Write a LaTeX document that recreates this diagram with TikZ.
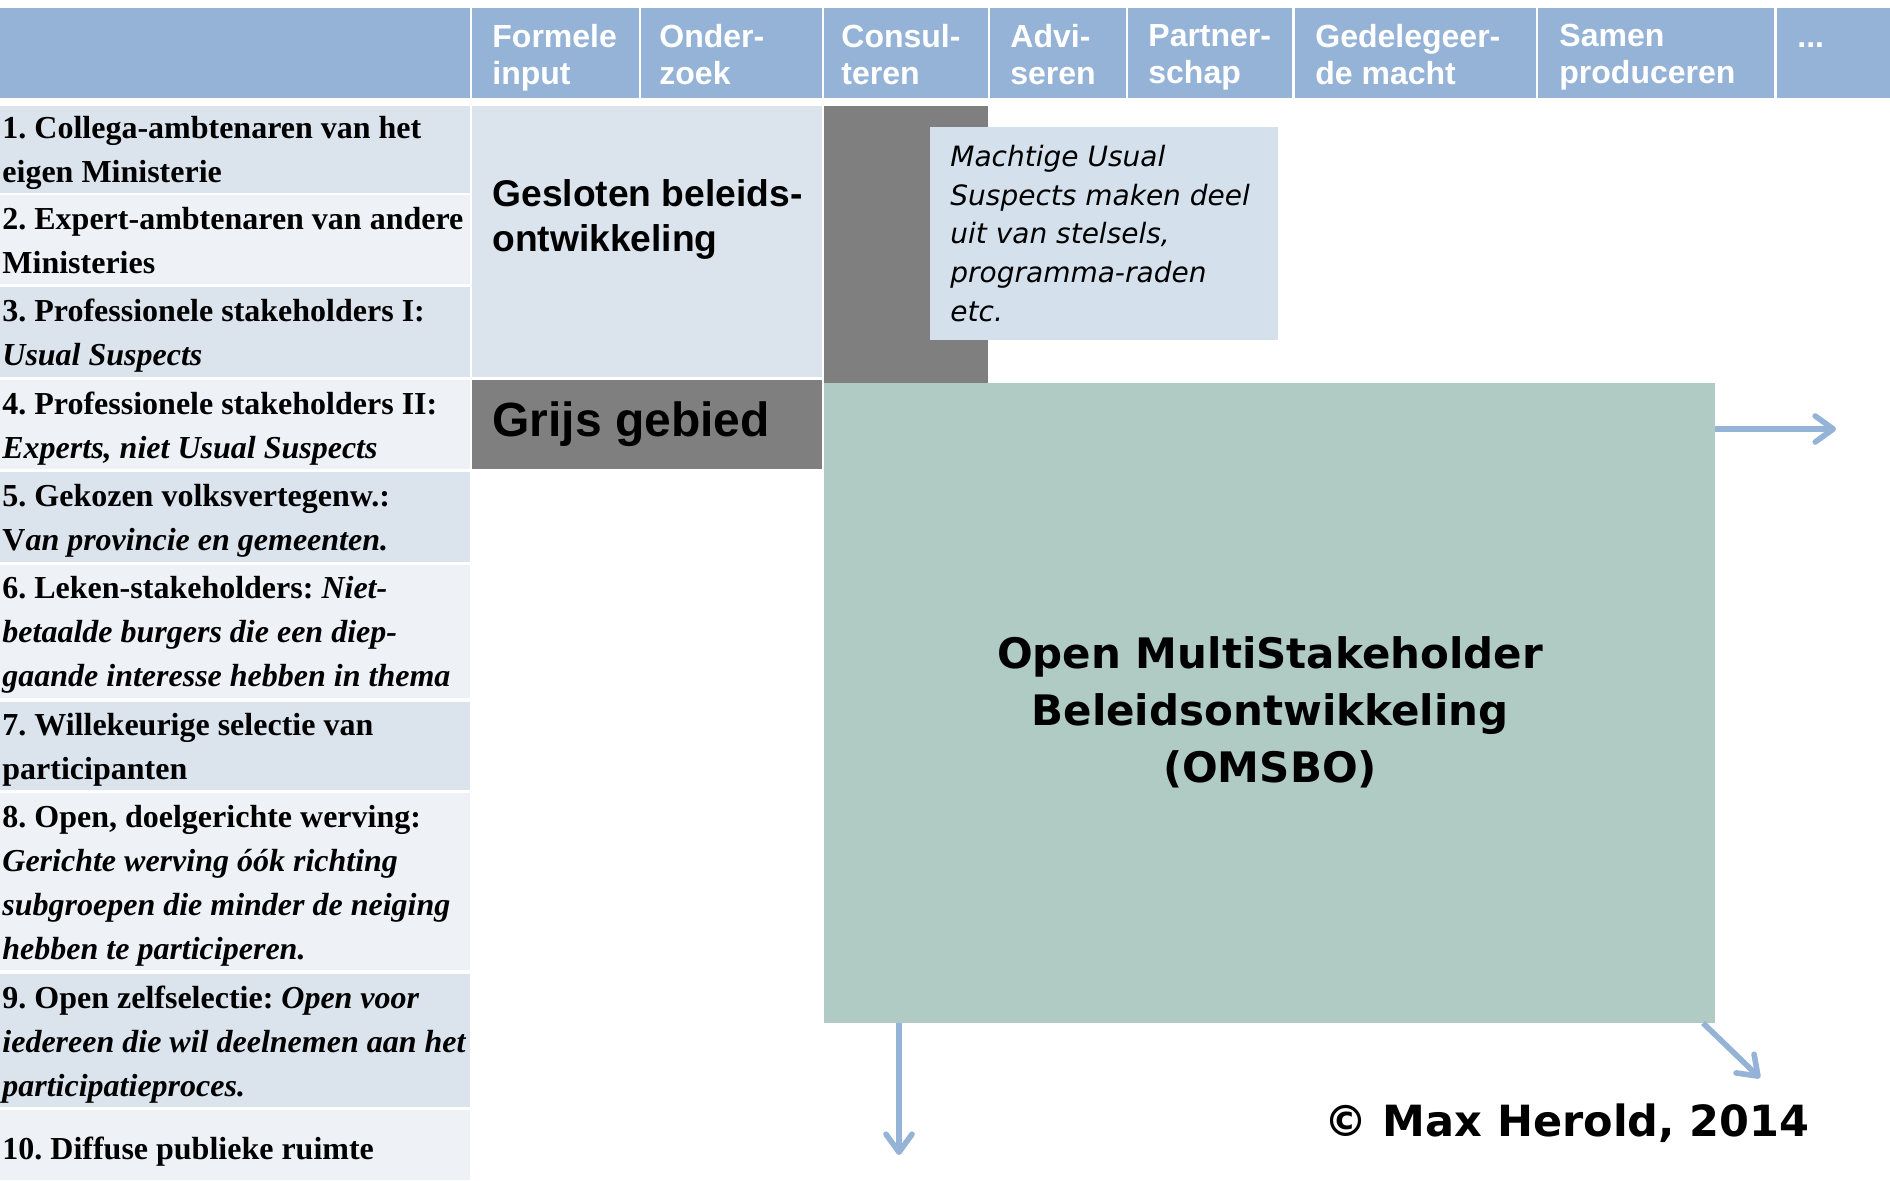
\documentclass[tikz,border=0pt]{standalone}
\usepackage{fontspec}
\usetikzlibrary{arrows.meta,fit}
\newfontfamily\arialf{Liberation Sans}
\newfontfamily\timesf{Liberation Serif}
\newfontfamily\verdf{DejaVu Sans}
\definecolor{hdrblue}{HTML}{95B3D7}
\definecolor{rowdark}{HTML}{DBE3ED}
\definecolor{rowlight}{HTML}{EEF2F7}
\definecolor{greyarea}{HTML}{7F7F7F}
\definecolor{notebox}{HTML}{D4E1ED}
\definecolor{omsbogreen}{HTML}{B0CBC4}
\frenchspacing
\newcommand\cellbox[6]{\node[fit={(#2,#3) (#4,#5)}, inner sep=0pt, outer sep=0pt, fill=#6] (#1) {};}
\tikzset{
  htxt/.style={anchor=north west, inner sep=0pt, text=white, align=left,
    font=\arialf\bfseries\fontsize{16}{18.5}\selectfont},
  rtxt/.style={anchor=north west, inner sep=0pt, align=left,
    font=\timesf\bfseries\fontsize{16}{22}\selectfont},
  bigtxt/.style={inner sep=0pt, align=left,
    font=\arialf\bfseries\fontsize{18.6}{22.5}\selectfont},
  notetxt/.style={anchor=north west, inner sep=0pt, align=left,
    font=\verdf\itshape\fontsize{14}{19.3}\selectfont},
  omsbotxt/.style={inner sep=0pt, align=center,
    font=\verdf\bfseries\fontsize{21}{28.5}\selectfont},
  arr/.style={draw=hdrblue, line width=2.8pt, line cap=butt,
    -{Straight Barb[length=9pt,width=13pt,round]}},
}
\begin{document}
\begin{tikzpicture}[x=0.5pt,y=-0.5pt]
\useasboundingbox (0,0) rectangle (1890,1180);
% header
\cellbox{h0}{0}{8}{470}{98}{hdrblue}
\cellbox{h1}{472}{8}{639}{98}{hdrblue}
\cellbox{h2}{641}{8}{822}{98}{hdrblue}
\cellbox{h3}{824}{8}{988}{98}{hdrblue}
\cellbox{h4}{990}{8}{1126}{98}{hdrblue}
\cellbox{h5}{1128}{8}{1292}{98}{hdrblue}
\cellbox{h6}{1295}{8}{1536}{98}{hdrblue}
\cellbox{h7}{1538}{8}{1774}{98}{hdrblue}
\cellbox{h8}{1777}{8}{1890}{98}{hdrblue}
\node[htxt] (t1) at (492,24) {Formele\\input};
\node[htxt] (t2) at (659,24) {Onder-\\zoek};
\node[htxt] (t3) at (841,24) {Consul-\\teren};
\node[htxt] (t4) at (1010,24) {Advi-\\seren};
\node[htxt] (t5) at (1148,24) {Partner-\\schap};
\node[htxt] (t6) at (1315,24) {Gedelegeer-\\de macht};
\node[htxt] (t7) at (1559,24) {Samen\\produceren};
\node[htxt, anchor=base west] (t8) at (1797,47) {...};
% rows
\cellbox{r1}{0}{106}{470}{193}{rowdark}
\cellbox{r2}{0}{195}{470}{284}{rowlight}
\cellbox{r3}{0}{287}{470}{377}{rowdark}
\cellbox{r4}{0}{380}{470}{469}{rowlight}
\cellbox{r5}{0}{472}{470}{562}{rowdark}
\cellbox{r6}{0}{565}{470}{698}{rowlight}
\cellbox{r7}{0}{702}{470}{790}{rowdark}
\cellbox{r8}{0}{793}{470}{970}{rowlight}
\cellbox{r9}{0}{974}{470}{1107}{rowdark}
\cellbox{r10}{0}{1110}{470}{1180}{rowlight}
\node[rtxt] (l1) at (2,116) {1. Collega-ambtenaren van het\\eigen Ministerie};
\node[rtxt] (l2) at (2,207) {2. Expert-ambtenaren van andere\\Ministeries};
\node[rtxt] (l3) at (2,299) {3. Professionele stakeholders I:\\\textit{Usual Suspects}};
\node[rtxt] (l4) at (2,392) {4. Professionele stakeholders II:\\\textit{Experts, niet Usual Suspects}};
\node[rtxt] (l5) at (2,484) {5. Gekozen volksvertegenw.:\\V\textit{an provincie en gemeenten.}};
\node[rtxt] (l6) at (2,576) {6. Leken-stakeholders: \textit{Niet-}\\\textit{betaalde burgers die een diep-}\\\textit{gaande interesse hebben in thema}};
\node[rtxt] (l7) at (2,713) {7. Willekeurige selectie van\\participanten};
\node[rtxt] (l8) at (2,805) {8. Open, doelgerichte werving:\\\textit{Gerichte werving óók richting}\\\textit{subgroepen die minder de neiging}\\\textit{hebben te participeren.}};
\node[rtxt] (l9) at (2,986) {9. Open zelfselectie: \textit{Open voor}\\\textit{iedereen die wil deelnemen aan het}\\\textit{participatieproces.}};
\node[rtxt] (l10) at (2,1137) {10. Diffuse publieke ruimte};
% blocks
\cellbox{gesloten}{472}{106}{822}{377}{rowdark}
\node[bigtxt, anchor=north west] (gtxt) at (492,179) {Gesloten beleids-\\ontwikkeling};
\cellbox{grijs}{472}{380}{822}{469}{greyarea}
\node[inner sep=0pt, anchor=base west, font=\arialf\bfseries\fontsize{24}{28}\selectfont] (grtxt) at (492,436) {Grijs gebied};
\cellbox{greycol}{824}{106}{988}{383}{greyarea}
\cellbox{note}{930}{127}{1278}{340}{notebox}
\node[notetxt] (ntxt) at (950,145) {Machtige Usual\\Suspects maken deel\\uit van stelsels,\\programma-raden\\etc.};
\cellbox{omsbo}{824}{383}{1715}{1023}{omsbogreen}
\node[omsbotxt] (otxt) at (1270,712) {Open MultiStakeholder\\Beleidsontwikkeling\\(OMSBO)};
% arrows
\coordinate (rEnd) at (1836,429);
\coordinate (dEnd) at (899,1155);
\coordinate (gEnd) at (1760,1078);
\draw[arr] (omsbo.east |- rEnd) -- (rEnd);
\draw[arr] (omsbo.south -| dEnd) -- (dEnd);
\draw[arr] ([xshift=-6pt]omsbo.south east) -- (gEnd);
% copyright
\node[inner sep=0pt, anchor=base east, font=\verdf\bfseries\fontsize{21.5}{26}\selectfont] (copy) at (1810,1136) {© Max Herold, 2014};
\end{tikzpicture}
\end{document}
